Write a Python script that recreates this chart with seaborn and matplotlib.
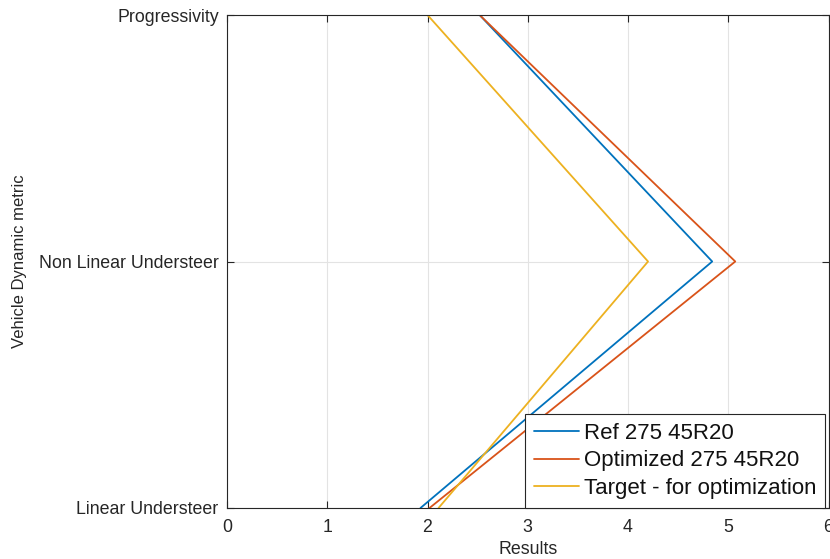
import matplotlib
matplotlib.use("Agg")
import matplotlib.pyplot as plt
import seaborn as sns
import pandas as pd

# Metrics along the vertical axis (bottom to top)
metrics = ["Linear Understeer", "Non Linear Understeer", "Progressivity"]
metric_pos = [1, 2, 3]

# Results per tyre configuration, one value per metric
ref_vals = [1.93, 4.84, 2.52]
opt_vals = [2.02, 5.07, 2.52]
target_vals = [2.11, 4.20, 2.00]

series_names = ["Ref 275 45R20", "Optimized 275 45R20", "Target - for optimization"]
series_colors = ["#0072BD", "#D95319", "#EDB120"]

rows = []
for name, vals in zip(series_names, [ref_vals, opt_vals, target_vals]):
    for pos, v in zip(metric_pos, vals):
        rows.append({"Series": name, "Results": v, "Metric": pos})
df = pd.DataFrame(rows)

sns.set_theme(style="white")
plt.rcParams["font.family"] = ["Liberation Sans", "DejaVu Sans"]

fig = plt.figure(figsize=(8.3, 5.59), dpi=100)
ax = fig.add_axes([227 / 830, 51 / 559, 601.5 / 830, 493 / 559])

sns.lineplot(data=df, x="Results", y="Metric", hue="Series", hue_order=series_names,
             palette=series_colors, sort=False, estimator=None, linewidth=1.3, ax=ax)

ax.set_xlim(0, 6)
ax.set_ylim(1, 3)
ax.set_xticks(range(0, 7))
ax.set_yticks(metric_pos)
ax.set_yticklabels(metrics)
ax.grid(True, color="#e3e3e3", linewidth=0.8)
ax.set_axisbelow(True)

for s in ax.spines.values():
    s.set_color("#262626")
    s.set_linewidth(0.8)
    s.set_visible(True)

ax.tick_params(axis="both", which="both", direction="in", length=5, width=0.8,
               color="#262626", labelcolor="#262626", labelsize=12.8,
               top=True, right=True, bottom=True, left=True)
ax.tick_params(axis="x", pad=8)
ax.tick_params(axis="y", pad=6)

ax.set_xlabel("Results", fontsize=12.8, color="#262626")
ax.set_ylabel("Vehicle Dynamic metric", fontsize=12, color="#262626")
ax.xaxis.set_label_coords(0.5, -0.067)
ax.yaxis.set_label_coords(-0.332, 0.5)

leg = ax.legend(loc="lower right", bbox_to_anchor=(0.995, 0.0), borderaxespad=0,
                fontsize=16, frameon=True, fancybox=False, handlelength=2.0,
                handletextpad=0.25, borderpad=0.4, labelspacing=0.3)
leg.get_frame().set_edgecolor("#262626")
leg.get_frame().set_linewidth(0.8)
leg.get_frame().set_facecolor("white")
leg.get_frame().set_alpha(1)
for t in leg.get_texts():
    t.set_color("#111111")

fig.savefig("out.png", dpi=100, facecolor="white")
